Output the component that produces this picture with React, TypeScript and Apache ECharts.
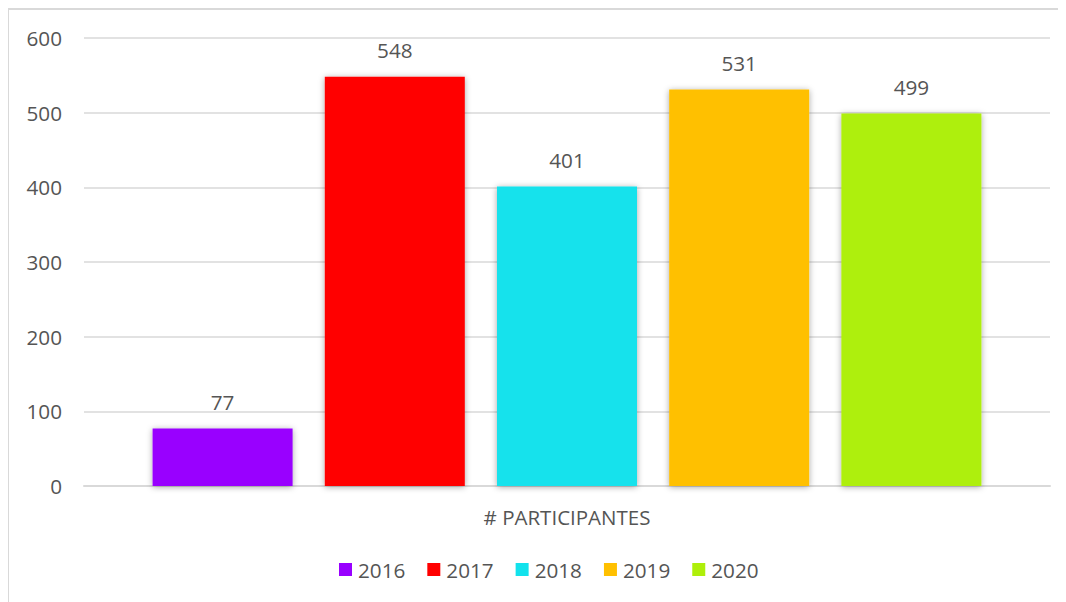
import React, { useEffect, useRef } from "react";
import * as echarts from "echarts";

const categories = ["# PARTICIPANTES"];
const seriesNames = ["2016", "2017", "2018", "2019", "2020"];
const seriesValues = [77, 548, 401, 531, 499];
const seriesColors = ["#9900FF", "#FF0000", "#12E2EC", "#FFC000", "#AEEF0A"];
const yTicks = { min: 0, max: 600, interval: 100 };

const FONT = "'Open Sans', 'Noto Sans', sans-serif";
const TEXT_COLOR = "#555555";

export default function App() {
  const ref = useRef<HTMLDivElement>(null);

  useEffect(() => {
    if (!ref.current) return;
    const chart = echarts.init(ref.current, undefined, { renderer: "svg" });
    chart.setOption({
      animation: false,
      backgroundColor: "#ffffff",
      textStyle: { fontFamily: FONT },
      graphic: [
        {
          type: "rect",
          silent: true,
          z: -10,
          shape: { x: 0, y: 1, width: 1200, height: 800 },
          style: { fill: "none", stroke: "#d9d9d9", lineWidth: 2 },
        },
      ],
      grid: { left: 76, right: 16, top: 30, bottom: 116, containLabel: false },
      legend: {
        left: 326,
        top: 546,
        itemWidth: 13,
        itemHeight: 13,
        itemGap: 22,
        icon: "rect",
        textStyle: { fontFamily: FONT, fontSize: 20.7, color: TEXT_COLOR, padding: [0, 0, 0, 1] },
        data: seriesNames,
      },
      xAxis: {
        type: "category",
        data: categories,
        axisLine: { show: true, lineStyle: { color: "#d9d9d9", width: 2 } },
        axisTick: { show: false },
        axisLabel: { margin: 20, fontFamily: FONT, fontSize: 20.5, color: TEXT_COLOR },
      },
      yAxis: {
        type: "value",
        min: yTicks.min,
        max: yTicks.max,
        interval: yTicks.interval,
        axisLine: { show: false },
        axisTick: { show: false },
        splitLine: { lineStyle: { color: "#d9d9d9", width: 1.5 } },
        axisLabel: { margin: 22, fontFamily: FONT, fontSize: 20.7, color: TEXT_COLOR },
      },
      series: seriesNames.map((name, i) => ({
        name,
        type: "bar",
        data: [seriesValues[i]],
        barWidth: 140,
        barGap: "23%",
        itemStyle: {
          color: seriesColors[i],
          shadowBlur: 6,
          shadowColor: "rgba(0,0,0,0.35)",
          shadowOffsetX: 0,
          shadowOffsetY: 1,
        },
        label: {
          show: true,
          position: "top",
          distance: 16,
          fontFamily: FONT,
          fontSize: 20.7,
          color: TEXT_COLOR,
        },
      })),
    });
    return () => chart.dispose();
  }, []);

  return <div ref={ref} style={{ width: 1058, height: 594 }} />;
}
